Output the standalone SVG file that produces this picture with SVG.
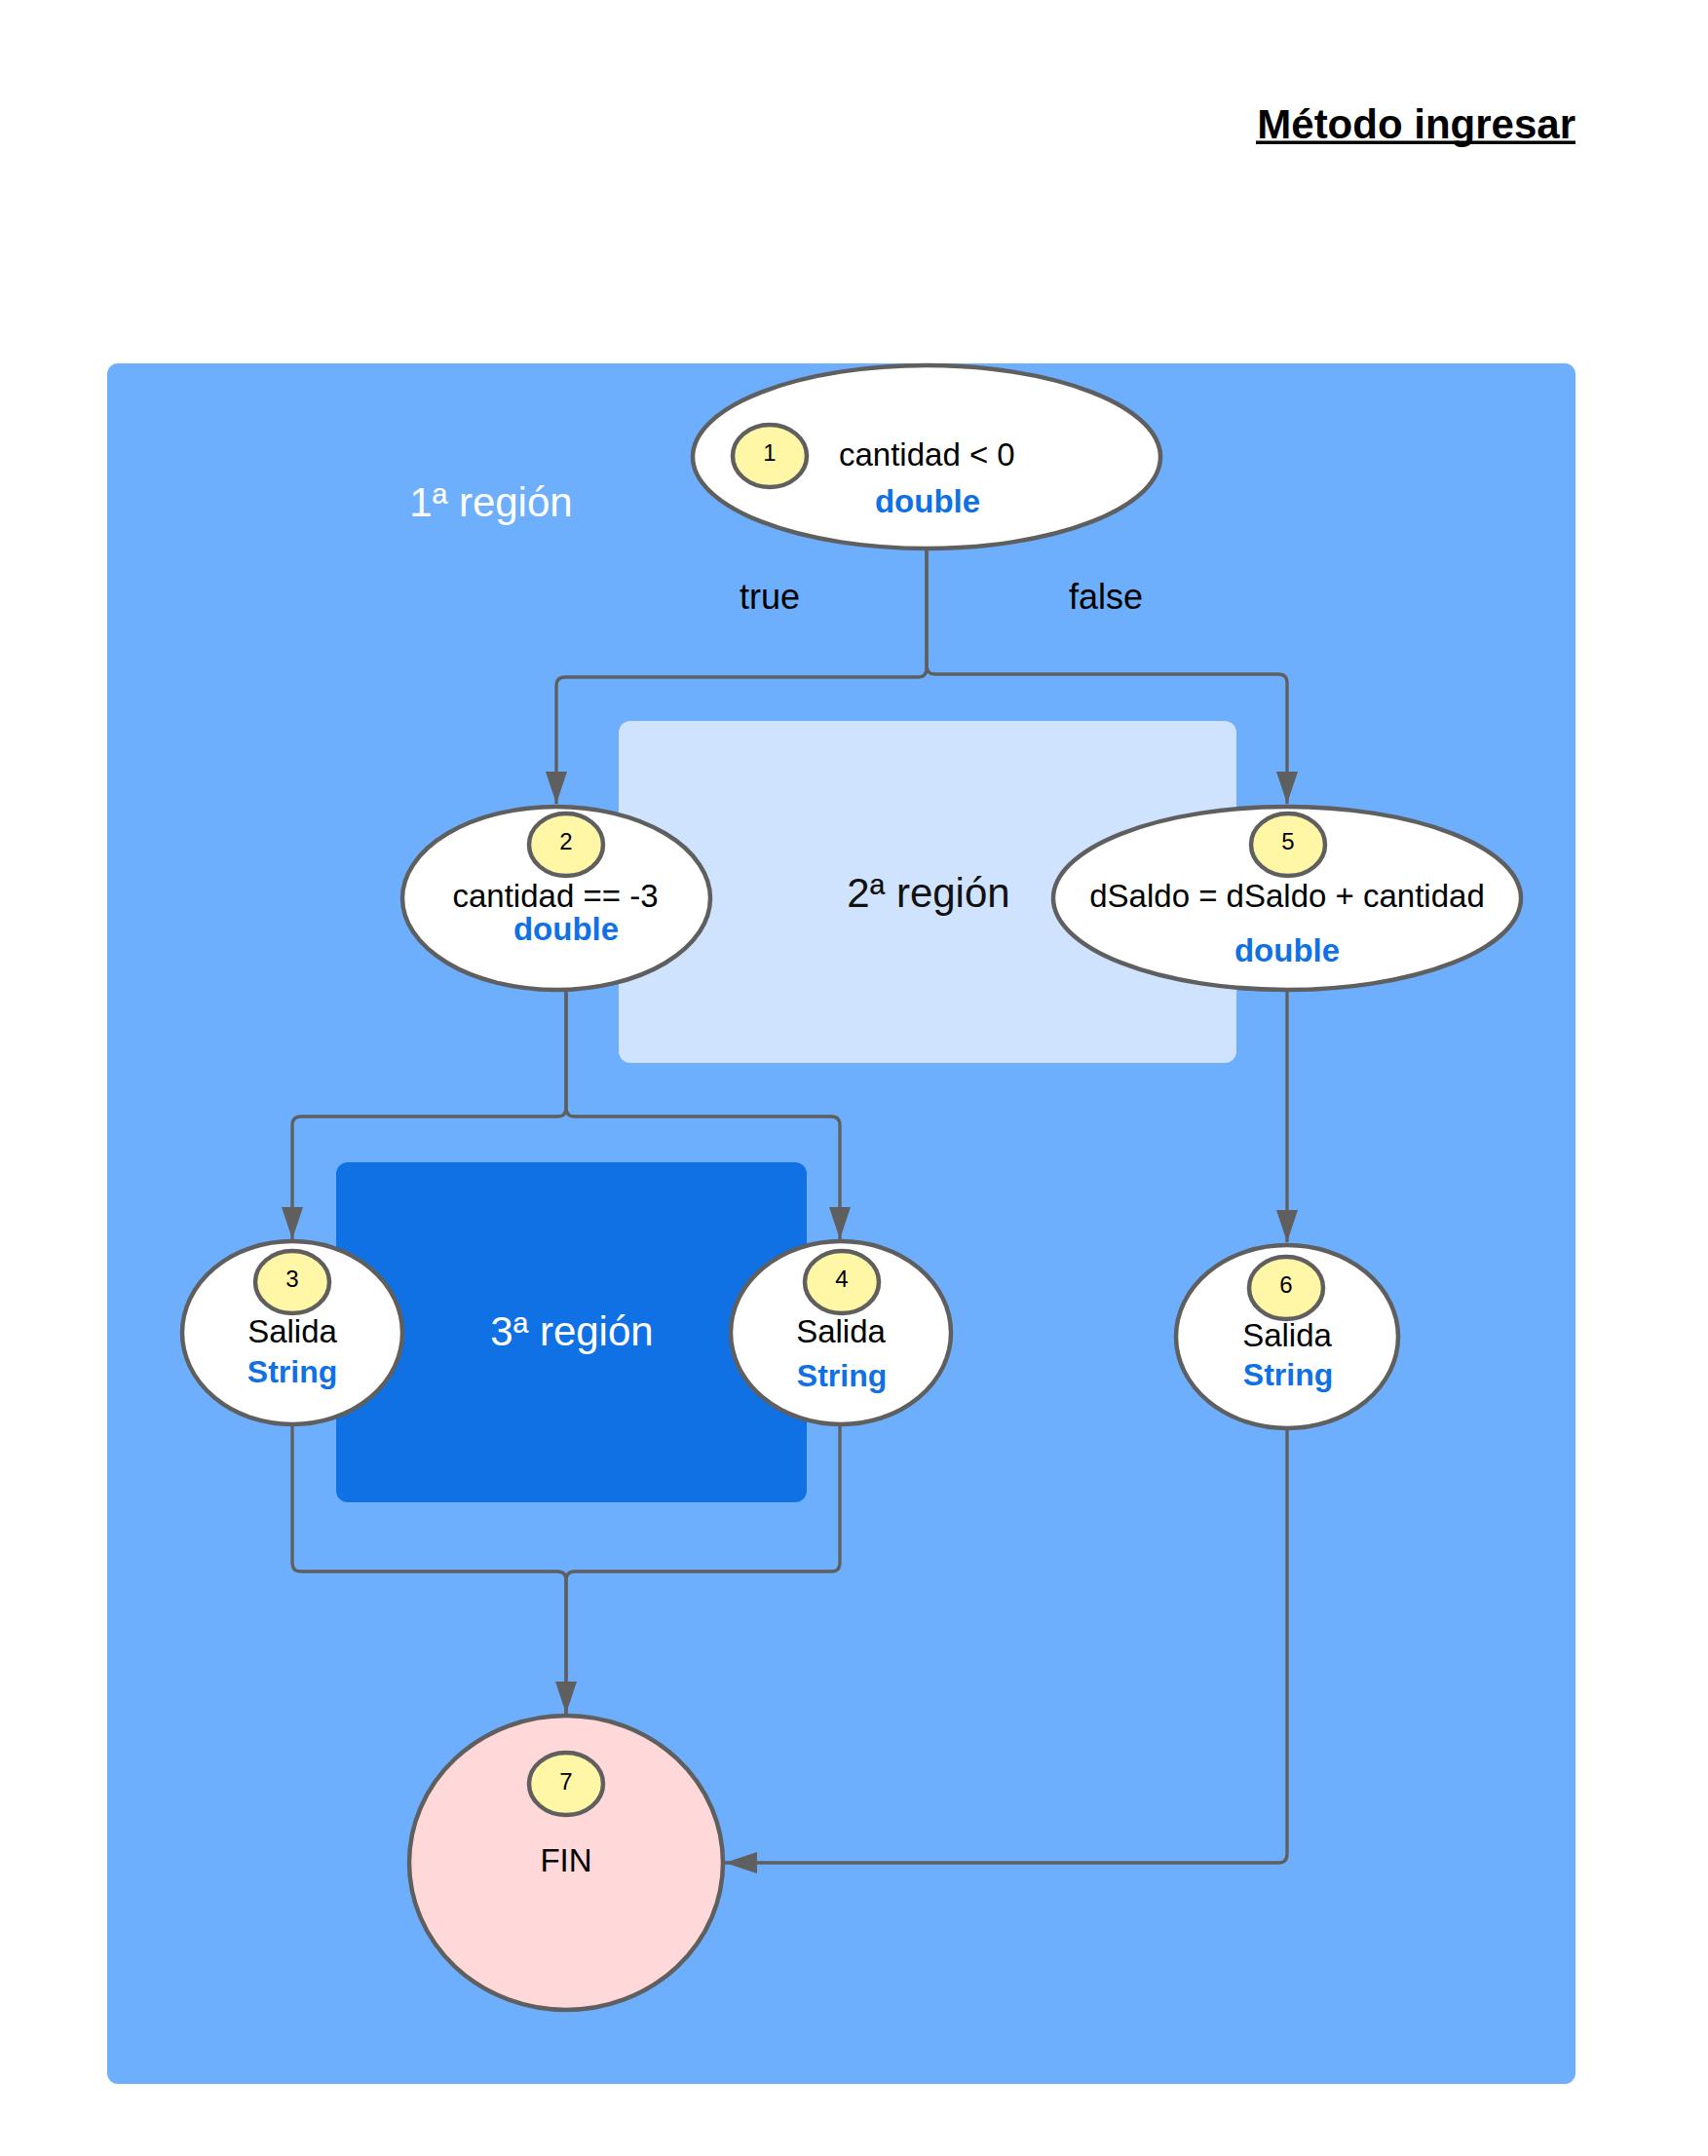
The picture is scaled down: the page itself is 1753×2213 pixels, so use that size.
<svg xmlns="http://www.w3.org/2000/svg" width="1753" height="2213" viewBox="0 0 1753 2213">
<style>
  text { font-family: "Liberation Sans", Arial, sans-serif; }
  .node { fill: #ffffff; stroke: #5f5f5f; stroke-width: 4.5; }
  .fin { fill: #ffd8d9; stroke: #5f5f5f; stroke-width: 4.5; }
  .num { fill: #fff7a6; stroke: #5f5f5f; stroke-width: 4.5; }
  .numt { font-size: 24px; fill: #000; text-anchor: middle; }
  .lbl { font-size: 33px; fill: #000; }
  .typ { font-size: 33px; font-weight: bold; fill: #1071e5; text-anchor: middle; }
  .typs { font-size: 32px; font-weight: bold; fill: #1071e5; text-anchor: middle; }
  .reg { font-size: 42px; text-anchor: middle; }
  .edge { fill: none; stroke: #5f5f5f; stroke-width: 3.3; }
  .elbl { font-size: 36px; fill: #000; }
</style>
<defs>
  <marker id="arr" markerUnits="userSpaceOnUse" markerWidth="36" markerHeight="24" refX="33" refY="11" orient="auto">
    <path d="M0,0 L33,11 L0,22 z" fill="#5f5f5f"/>
  </marker>
</defs>
<rect width="1753" height="2213" fill="#ffffff"/>
<g id="title">
  <text x="1617" y="142" font-size="42" font-weight="bold" text-anchor="end" fill="#000">Método ingresar</text>
  <rect x="1289" y="144.5" width="328" height="3.5" fill="#000"/>
</g>
<g id="region1">
  <rect x="110" y="373" width="1507" height="1766" rx="11" fill="#6daffd"/>
  <text class="reg" x="504" y="530" fill="#ffffff">1ª región</text>
</g>
<g id="region2">
  <rect x="635" y="740" width="634" height="351" rx="12" fill="#cfe3fe"/>
  <text class="reg" x="953" y="931" fill="#111111">2ª región</text>
</g>
<g id="region3">
  <rect x="345" y="1193" width="483" height="349" rx="12" fill="#1071e5"/>
  <text class="reg" x="587" y="1381" fill="#ffffff">3ª región</text>
</g>
<g id="connectors">
  <path class="edge" d="M951,563 V686 Q951,695 942,695 H580 Q571,695 571,704 V825" marker-end="url(#arr)"/>
  <path class="edge" d="M951,563 V683 Q951,692 960,692 H1312 Q1321,692 1321,701 V825" marker-end="url(#arr)"/>
  <path class="edge" d="M581,1018 V1137 Q581,1146 572,1146 H309 Q300,1146 300,1155 V1272" marker-end="url(#arr)"/>
  <path class="edge" d="M581,1018 V1137 Q581,1146 590,1146 H853 Q862,1146 862,1155 V1272" marker-end="url(#arr)"/>
  <path class="edge" d="M1321,1017 V1275" marker-end="url(#arr)"/>
  <path class="edge" d="M300,1463 V1604 Q300,1613 309,1613 H572 Q581,1613 581,1622 V1759" marker-end="url(#arr)"/>
  <path class="edge" d="M862,1463 V1604 Q862,1613 853,1613 H590 Q581,1613 581,1622 V1759"/>
  <path class="edge" d="M1321,1467 V1903 Q1321,1912 1312,1912 H744" marker-end="url(#arr)"/>
  <text class="elbl" x="759" y="625">true</text>
  <text class="elbl" x="1097" y="625">false</text>
</g>
<g id="node1">
  <ellipse class="node" cx="951" cy="469" rx="240" ry="94"/>
  <ellipse class="num" cx="790" cy="468" rx="38" ry="32"/>
  <text class="numt" x="790" y="473">1</text>
  <text class="lbl" x="861" y="478">cantidad &lt; 0</text>
  <text class="typ" x="952" y="526">double</text>
</g>
<g id="node2">
  <ellipse class="node" cx="571" cy="922" rx="158" ry="94"/>
  <ellipse class="num" cx="581" cy="867" rx="38" ry="32"/>
  <text class="numt" x="581" y="872">2</text>
  <text class="lbl" x="570" y="931" text-anchor="middle">cantidad == -3</text>
  <text class="typ" x="581" y="965">double</text>
</g>
<g id="node5">
  <ellipse class="node" cx="1321" cy="922" rx="240" ry="94"/>
  <ellipse class="num" cx="1322" cy="867" rx="38" ry="32"/>
  <text class="numt" x="1322" y="872">5</text>
  <text class="lbl" x="1321" y="931" text-anchor="middle">dSaldo = dSaldo + cantidad</text>
  <text class="typ" x="1321" y="987">double</text>
</g>
<g id="node3">
  <ellipse class="node" cx="300" cy="1368" rx="113" ry="94"/>
  <ellipse class="num" cx="300" cy="1316" rx="38" ry="32"/>
  <text class="numt" x="300" y="1321">3</text>
  <text class="lbl" x="300" y="1378" text-anchor="middle">Salida</text>
  <text class="typs" x="300" y="1419">String</text>
</g>
<g id="node4">
  <ellipse class="node" cx="863" cy="1368" rx="113" ry="94"/>
  <ellipse class="num" cx="864" cy="1316" rx="38" ry="32"/>
  <text class="numt" x="864" y="1321">4</text>
  <text class="lbl" x="863" y="1378" text-anchor="middle">Salida</text>
  <text class="typs" x="864" y="1423">String</text>
</g>
<g id="node6">
  <ellipse class="node" cx="1321" cy="1372" rx="114" ry="94"/>
  <ellipse class="num" cx="1320" cy="1322" rx="38" ry="32"/>
  <text class="numt" x="1320" y="1327">6</text>
  <text class="lbl" x="1321" y="1382" text-anchor="middle">Salida</text>
  <text class="typs" x="1322" y="1422">String</text>
</g>
<g id="node7">
  <ellipse class="fin" cx="581" cy="1912" rx="161" ry="151"/>
  <ellipse class="num" cx="581" cy="1831" rx="38" ry="32"/>
  <text class="numt" x="581" y="1837">7</text>
  <text class="lbl" x="581" y="1921" text-anchor="middle">FIN</text>
</g>
</svg>
